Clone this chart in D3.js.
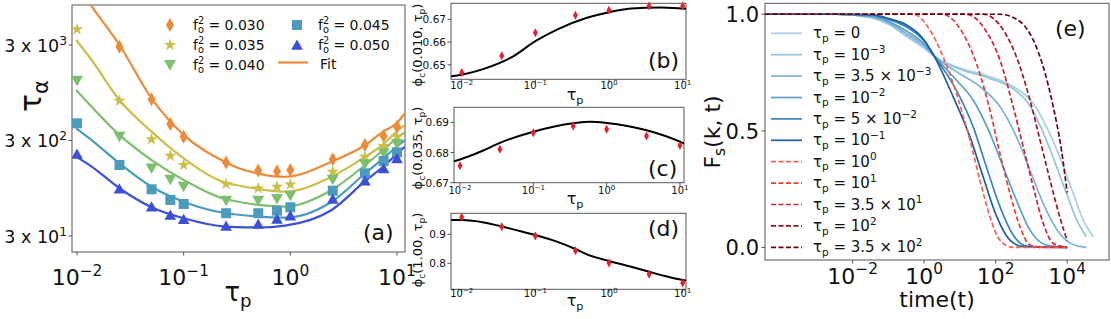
<!DOCTYPE html>
<html><head><meta charset="utf-8">
<script src="https://cdn.jsdelivr.net/npm/d3@7"></script>
<style>body{margin:0;background:#fff} svg{display:block;font-family:"DejaVu Sans",sans-serif} text{white-space:pre}</style>
</head><body><script>
// ---------------- Panel (a) data ----------------
const tauP = [0.01,0.025,0.05,0.075,0.1,0.25,0.5,0.75,1,2.5,5,7.5,10];
const f2Labels = ["0.030","0.035","0.040","0.045","0.050"];
const tauA030 = [null,2877,809,446,329,176,145,143,147,191,269,334,418];
const tauA035 = [4375,783,309,207,166,105,94.8,98.5,104,141,203,262,329];
const tauA040 = [1268,329,153,116,98.5,70.3,70.3,73.2,79.3,116,169,220,275];
const tauA045 = [454,166,92.5,71.5,64.9,51.9,51.9,55.2,59.9,89.4,136,183,225];
const tauA050 = [217,93.8,60.8,49.8,44.9,38.2,40.1,45.2,49.0,73.2,114,153,195];
const fitTau = [0.0098,0.0137,0.025,0.05,0.1,0.25,0.30,0.5,0.89,2.44,5.04,7.43,9.91,11.86];
const fit030 = [13500,7676,3000,829,343,177,160,135,125,180,269,371,454,578];
const fit035 = [3383,2090,796,371,195,108,103,93,87.3,125,203,273,371,436];
const fit040 = [1013,678,343,187,116,72.6,69.7,63.4,60.8,91,166,239,316,365];
const fit045 = [403,303,173,98.4,68.5,51.9,50.6,47.8,46.7,68.5,136,195,258,303];
const fit050 = [203,160,94.8,60,45.9,37.5,37.2,36.8,38.5,56.1,113,160,215,258];
const yTicksA = [30,300,3000];
const yTickExpA = ["1","2","3"];
const xTicksA = [0.01,0.1,1,10];
const xTickExp = ["−2","−1","0","1"];

// ---------------- Panels (b)(c)(d) data ----------------
const tauBCD = [0.01,0.035,0.1,0.35,1,3.5,10];
const phiB = [0.6466,0.6540,0.6641,0.6718,0.6740,0.6759,0.6759];
const phiC = [0.6756,0.6811,0.6866,0.6888,0.6877,0.6855,0.6823];
const phiD = [0.9586,0.9262,0.8941,0.8434,0.8010,0.7621,0.7321];
const fitBTau = [0.0072,0.01,0.02,0.05,0.1,0.2,0.5,1,2,5,10,11.1];
const fitB = [0.6449,0.6456,0.6482,0.6537,0.6604,0.6656,0.6707,0.6732,0.6748,0.6753,0.6748,0.6747];
const fitCTau = [0.0083,0.01,0.02,0.035,0.1,0.35,0.6,1,3.5,10,11.35];
const fitC = [0.6771,0.6777,0.6805,0.6832,0.6869,0.6897,0.6902,0.6898,0.6874,0.6836,0.6830];
const fitDTau = [0.0072,0.01,0.02,0.035,0.05,0.1,0.2,0.35,0.5,1,2,3.5,5,10,11.1];
const fitD = [0.9493,0.949,0.941,0.927,0.917,0.8976,0.874,0.8493,0.831,0.8079,0.788,0.7710,0.760,0.7424,0.741];
const yTicksB = [0.65,0.66,0.67];
const yTicksC = [0.67,0.68,0.69];
const yTicksD = [0.8,0.9];

// ---------------- Panel (e) data: [log10 t, Fs] ----------------
const eTp0    = [[-4.45,1],[-2.5,1],[-1.5,0.985],[-0.96,0.954],[-0.49,0.904],[0,0.854],[0.3,0.818],[0.9,0.775],[1.84,0.732],[2.49,0.69],[3.05,0.618],[3.42,0.518],[3.79,0.389],[4.17,0.232],[4.45,0.117],[4.73,0.046]];
const eTp1em3 = [[-4.45,1],[-2.5,1],[-1.5,0.988],[-0.96,0.958],[-0.49,0.91],[0,0.86],[0.3,0.818],[0.9,0.77],[1.84,0.725],[2.49,0.68],[2.9,0.62],[3.25,0.52],[3.6,0.389],[3.98,0.232],[4.27,0.117],[4.54,0.045]];
const eTp35em3= [[-4.45,1],[-2.5,1],[-1.5,0.99],[-0.96,0.962],[-0.49,0.918],[0,0.866],[0.3,0.818],[0.9,0.754],[1.56,0.69],[2.12,0.604],[2.58,0.475],[2.96,0.332],[3.33,0.189],[3.79,0.06],[4.2,0.01],[4.54,0]];
const eTp1em2 = [[-4.45,1],[-2.5,1],[-1.5,0.993],[-0.96,0.967],[-0.49,0.928],[0,0.873],[0.3,0.818],[0.9,0.718],[1.37,0.632],[1.84,0.489],[2.21,0.346],[2.58,0.203],[2.96,0.074],[3.42,0.01],[4,0]];
const eTp5em2 = [[-4.45,1],[-2.5,1],[-1.5,0.997],[-0.96,0.976],[-0.49,0.945],[0,0.885],[0.3,0.818],[0.9,0.675],[1.37,0.518],[1.74,0.346],[2.12,0.175],[2.49,0.053],[2.86,0.006],[4,0]];
const eTp1em1 = [[-4.45,1],[-2.5,1],[-1.5,0.998],[-0.96,0.98],[-0.49,0.954],[0,0.89],[0.3,0.815],[0.81,0.647],[1.28,0.475],[1.65,0.303],[2.03,0.132],[2.4,0.031],[2.77,0.003],[4,0]];
const eTp1e0  = [[-4.45,1],[-0.3,1],[0.16,0.933],[0.53,0.818],[0.9,0.661],[1.28,0.461],[1.56,0.289],[1.84,0.132],[2.12,0.031],[2.49,0],[4,0]];
const eTp1e1  = [[-4.45,1],[0.5,1],[1.09,0.917],[1.46,0.79],[1.84,0.589],[2.12,0.403],[2.4,0.232],[2.68,0.089],[2.96,0.01],[3.3,0],[4,0]];
const eTp35e1 = [[-4.45,1],[1.18,1],[1.74,0.926],[2.12,0.804],[2.49,0.604],[2.77,0.432],[3.05,0.26],[3.33,0.103],[3.61,0.017],[4,0]];
const eTp1e2  = [[-4.45,1],[1.65,1],[2.21,0.933],[2.58,0.818],[2.96,0.632],[3.24,0.461],[3.52,0.289],[3.79,0.132],[4.0,0.029]];
const eTp35e2 = [[-4.45,1],[2.12,1],[2.68,0.969],[3.05,0.89],[3.33,0.775],[3.61,0.604],[3.84,0.418],[4.0,0.235]];
const eLabels = [
  [["0"]],[["10"],["−3","sup"]],[["3.5 × 10"],["−3","sup"]],[["10"],["−2","sup"]],[["5 × 10"],["−2","sup"]],[["10"],["−1","sup"]],
  [["10"],["0","sup"]],[["10"],["1","sup"]],[["3.5 × 10"],["1","sup"]],[["10"],["2","sup"]],[["3.5 × 10"],["2","sup"]]
];
const eColors = ["#a9cee4","#93c3df","#79b4d8","#5a9fcf","#3a83bf","#1d5fa7","#f8614f","#ee3a2e","#d3222a","#a5141b","#6a0010"];
const eXTicks = [1e-2,1e0,1e2,1e4];
const eXTickExp = ["−2","0","2","4"];
const eYTicks = [0,0.5,1.0];

// ---------------- helpers ----------------
const AX = '#555';
const svg = d3.select('body').append('svg').attr('width',1111).attr('height',319);
const defs = svg.append('defs');
function rich(parent, x, y, parts, size, anchor='start', rotate=null){
  const t = parent.append('text').attr('x',x).attr('y',y).attr('font-size',size)
    .attr('text-anchor',anchor).attr('fill','#111');
  if(rotate!==null) t.attr('transform',`rotate(${rotate},${x},${y})`);
  let cur=0;
  parts.forEach(p=>{
    const mode=p[1]||'';
    const target = mode==='sup'?-0.42*size:mode==='sub'?0.24*size:0;
    const ts=t.append('tspan').text(p[0]).attr('dy',target-cur);
    if(mode) ts.attr('font-size',0.7*size);
    if(p[2]) ts.attr('dx',p[2]);
    cur=target;
  });
  return t;
}
function frame(x0,y0,x1,y1,id){
  svg.append('rect').attr('x',x0).attr('y',y0).attr('width',x1-x0).attr('height',y1-y0)
    .attr('fill','none').attr('stroke',AX).attr('stroke-width',1);
  defs.append('clipPath').attr('id',id).append('rect').attr('x',x0).attr('y',y0).attr('width',x1-x0).attr('height',y1-y0);
}
function xTicks(scale,vals,y,len=3.5){
  vals.forEach(v=>svg.append('line').attr('x1',scale(v)).attr('x2',scale(v)).attr('y1',y).attr('y2',y+len).attr('stroke',AX));
}
function yTicks(scale,vals,x,len=3.5){
  vals.forEach(v=>svg.append('line').attr('y1',scale(v)).attr('y2',scale(v)).attr('x1',x).attr('x2',x-len).attr('stroke',AX));
}
const thinDiamond=(w,h)=>`M0,${-h/2}L${w/2},0L0,${h/2}L${-w/2},0Z`;
const triDown=`M-6,-5L6,-5L0,5.5Z`;
const triUp=`M0,-5.5L5.8,4.8L-5.8,4.8Z`;
const square=`M-5,-5H5V5H-5Z`;
const star=d3.symbol(d3.symbolStar,48)();

// ---------------- Panel (a) ----------------
const xA = d3.scaleLog().domain([10**-2.047,10**1.075]).range([72,405]);
const yA = d3.scaleLog().domain([10**1.309,10**3.896]).range([252,5]);
frame(72,5,405,252,'clipA');
xTicks(xA,xTicksA,252);
yTicks(yA,yTicksA,72);
xTicksA.forEach((v,i)=>rich(svg,xA(v),285,[["10"],[xTickExp[i],"sup"]],22,'middle'));
yTicksA.forEach((v,i)=>rich(svg,67,yA(v)+7,[["3 x 10"],[yTickExpA[i],"sup"]],17.5,'end'));
rich(svg,41,96,[["τ"],["α","sub"]],30,'middle',-90);
rich(svg,238,301,[["τ"],["p","sub"]],26,'middle');
rich(svg,363,240,[["(a)"]],22,'start');

const seriesA = [
  {vals:tauA030, fit:fit030, color:'#ec8a38', shape:thinDiamond(8,14)},
  {vals:tauA035, fit:fit035, color:'#cbbf48', shape:star},
  {vals:tauA040, fit:fit040, color:'#7dbf6c', shape:triDown},
  {vals:tauA045, fit:fit045, color:'#4b9cbc', shape:square},
  {vals:tauA050, fit:fit050, color:'#3b50d6', shape:triUp},
];
const gA = svg.append('g').attr('clip-path','url(#clipA)');
const lineA = d3.line().x(d=>xA(d[0])).y(d=>yA(d[1])).curve(d3.curveMonotoneX);
seriesA.forEach(s=>{
  gA.append('path').attr('d',lineA(fitTau.map((t,i)=>[t,s.fit[i]])))
    .attr('fill','none').attr('stroke',s.color).attr('stroke-width',2.2);
});
seriesA.forEach(s=>{
  tauP.forEach((t,i)=>{
    if(s.vals[i]==null) return;
    gA.append('path').attr('d',s.shape).attr('transform',`translate(${xA(t)},${yA(s.vals[i])})`).attr('fill',s.color);
  });
});
// legend (a)
const legA = [
  {x:170,y:25,tx:193,i:0},{x:170,y:45,tx:193,i:1},{x:170,y:65,tx:193,i:2},
  {x:297,y:25,tx:318,i:3},{x:297,y:45,tx:318,i:4}
];
legA.forEach(l=>{
  const s=seriesA[l.i];
  svg.append('path').attr('d',s.shape).attr('transform',`translate(${l.x},${l.y})`).attr('fill',s.color);
  rich(svg,l.tx,l.y+4.5,[["f"],["2","sup"],["o","sub",-6.2],[" = "+f2Labels[l.i]]],14,'start');
});
svg.append('line').attr('x1',278).attr('x2',308).attr('y1',62.5).attr('y2',62.5).attr('stroke',seriesA[0].color).attr('stroke-width',2.2);
rich(svg,320,68.5,[["Fit"]],14,'start');

// ---------------- Panels (b)(c)(d) ----------------
const panelsBCD = [
  {x0:451,x1:686,y0:3.3,y1:79.3, xd:[10**-2.145,10**1.045], dom:[0.6436,0.6771], ticks:yTicksB, pts:phiB, fT:fitBTau, f:fitB, id:'clipB', lab:'(b)', lb:68, tl:89, xl:100, yc:45, arg:'0.010', fmt:d3.format('.2f')},
  {x0:454,x1:684,y0:107.3,y1:182.7, xd:[10**-2.082,10**1.055], dom:[0.67,0.6950], ticks:yTicksC, pts:phiC, fT:fitCTau, f:fitC, id:'clipC', lab:'(c)', lb:176, tl:194, xl:204, yc:148, arg:'0.035', fmt:d3.format('.2f')},
  {x0:451,x1:686,y0:213.3,y1:289.3, xd:[10**-2.145,10**1.045], dom:[0.7103,0.9724], ticks:yTicksD, pts:phiD, fT:fitDTau, f:fitD, id:'clipD', lab:'(d)', lb:236, tl:297, xl:306, yc:250, arg:'1.00', fmt:d3.format('.1f')},
];
panelsBCD.forEach(P=>{
  const x = d3.scaleLog().domain(P.xd).range([P.x0,P.x1]);
  const y = d3.scaleLinear().domain(P.dom).range([P.y1,P.y0]);
  frame(P.x0,P.y0,P.x1,P.y1,P.id);
  xTicks(x,xTicksA,P.y1);
  yTicks(y,P.ticks,P.x0);
  xTicksA.forEach((v,i)=>rich(svg,x(v),P.tl,[["10"],[xTickExp[i],"sup"]],10,'middle'));
  P.ticks.forEach(v=>rich(svg,P.x0-5,y(v)+4,[[P.fmt(v)]],10.5,'end'));
  rich(svg,575,P.xl,[["τ"],["p","sub"]],16,'middle');
  rich(svg,422,P.yc,[["ϕ"],["c","sub"],["("+P.arg+", τ"],["p","sub"],[")"]],13,'middle',-90);
  rich(svg,648,P.lb,[[P.lab]],22,'start');
  const g = svg.append('g').attr('clip-path',`url(#${P.id})`);
  const ln = d3.line().x(d=>x(d[0])).y(d=>y(d[1])).curve(d3.curveMonotoneX);
  g.append('path').attr('d',ln(P.fT.map((t,i)=>[t,P.f[i]]))).attr('fill','none').attr('stroke','#000').attr('stroke-width',2);
  tauBCD.forEach((t,i)=>{
    svg.append('path').attr('d',thinDiamond(5,9)).attr('transform',`translate(${x(t)},${y(P.pts[i])})`).attr('fill','#e3242b');
  });
});

// ---------------- Panel (e) ----------------
const xE = d3.scaleLog().domain([10**-4.45,10**5.17]).range([765,1109]);
const yE = d3.scaleLinear().domain([-0.054,1.047]).range([260,3.3]);
frame(765,3.3,1109,260,'clipE');
xTicks(xE,eXTicks,260);
yTicks(yE,eYTicks,765);
eXTicks.forEach((v,i)=>rich(svg,xE(v),283.5,[["10"],[eXTickExp[i],"sup"]],22,'middle'));
eYTicks.forEach(v=>rich(svg,759,yE(v)+8,[[d3.format('.1f')(v)]],21,'end'));
rich(svg,937,307,[["time(t)"]],22,'middle');
rich(svg,720,132,[["F"],["s","sub"],["(k, t)"]],22,'middle',-90);
rich(svg,1055,35.5,[["(e)"]],22,'start');
const eCurves = [eTp0,eTp1em3,eTp35em3,eTp1em2,eTp5em2,eTp1em1,eTp1e0,eTp1e1,eTp35e1,eTp1e2,eTp35e2];
const gE = svg.append('g').attr('clip-path','url(#clipE)');
const lineE = d3.line().x(d=>xE(10**d[0])).y(d=>yE(d[1])).curve(d3.curveMonotoneX);
eCurves.forEach((c,i)=>{
  const p=gE.append('path').attr('d',lineE(c)).attr('fill','none').attr('stroke',eColors[i]).attr('stroke-width',1.7);
  if(i>=6) p.attr('stroke-dasharray','5,2.5');
});
// legend (e)
eLabels.forEach((lab,i)=>{
  const yy = 33.3 + i*21.4;
  const l=svg.append('line').attr('x1',771).attr('x2',802).attr('y1',yy).attr('y2',yy).attr('stroke',eColors[i]).attr('stroke-width',1.7);
  if(i>=6) l.attr('stroke-dasharray','5,2.5');
  rich(svg,813,yy+5,[["τ"],["p","sub"],[" = "]].concat(lab),15,'start');
});
</script></body></html>
